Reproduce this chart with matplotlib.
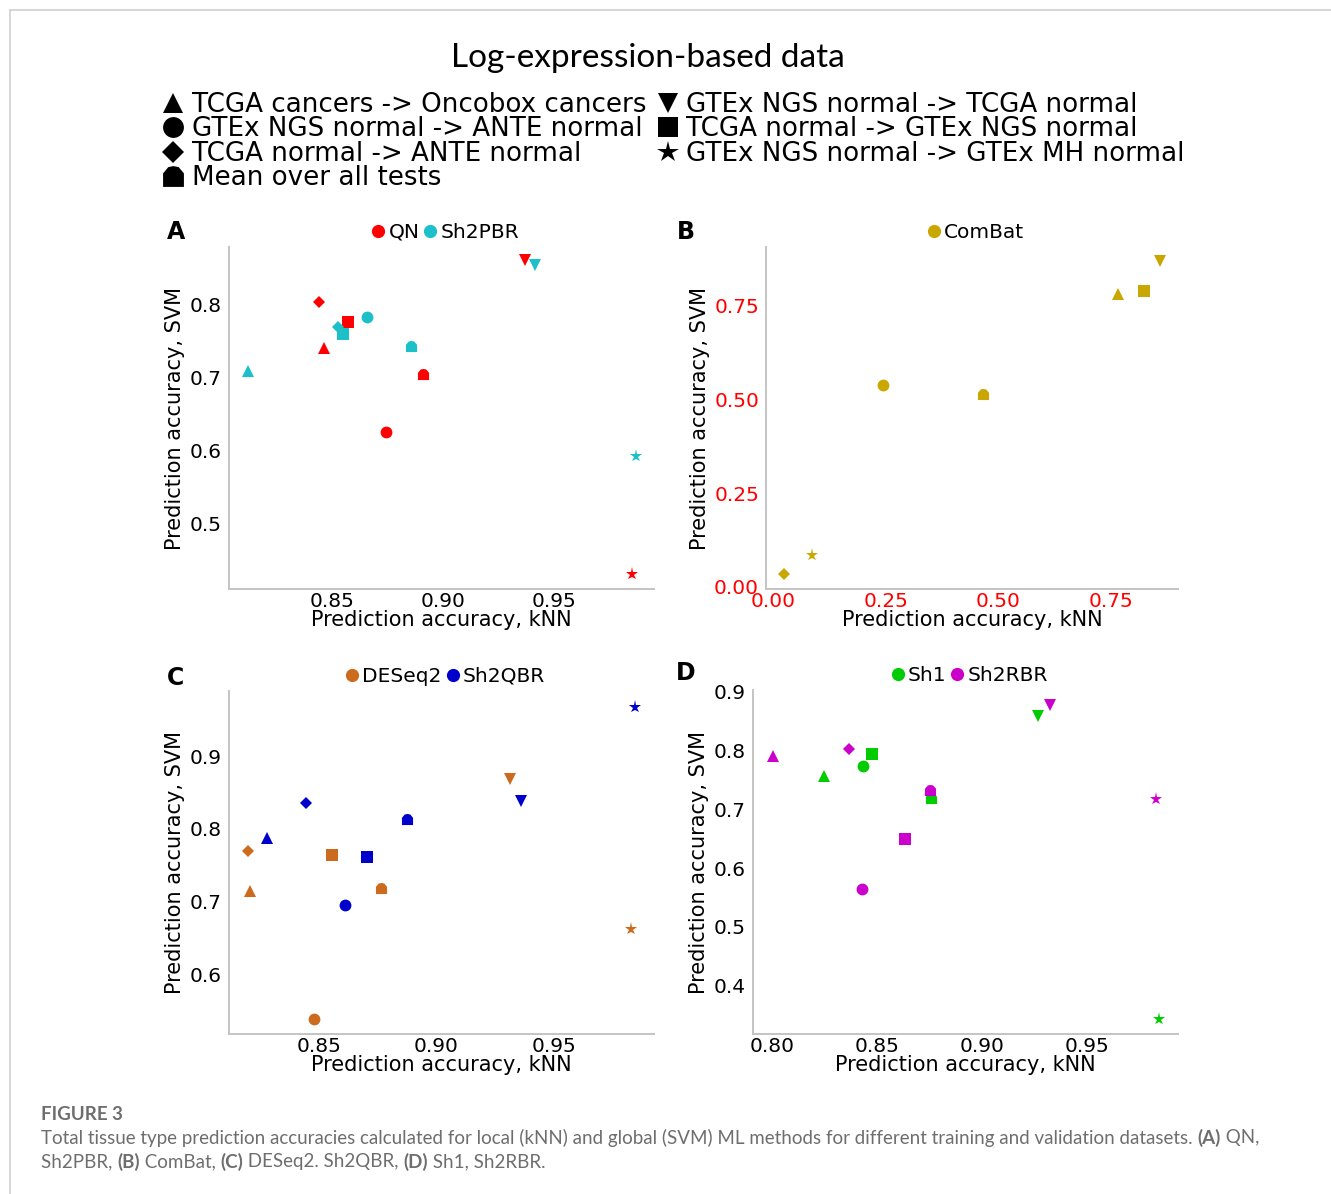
import numpy as np
import matplotlib
matplotlib.use("Agg")
import matplotlib.pyplot as plt
from matplotlib.path import Path
from matplotlib.lines import Line2D

# test order: up-triangle, circle, diamond, mean, down-triangle, square, star
tests = ["TCGA cancers -> Oncobox cancers", "GTEx NGS normal -> ANTE normal",
         "TCGA normal -> ANTE normal", "Mean over all tests",
         "GTEx NGS normal -> TCGA normal", "TCGA normal -> GTEx NGS normal",
         "GTEx NGS normal -> GTEx MH normal"]

qn_knn = [0.8465, 0.8742, 0.8443, 0.8909, 0.9370, 0.8573, 0.9850]
qn_svm = [0.7407, 0.6265, 0.8037, 0.7050, 0.8610, 0.7770, 0.4310]
sh2pbr_knn = [0.8123, 0.8656, 0.8526, 0.8856, 0.9416, 0.8548, 0.9868]
sh2pbr_svm = [0.7096, 0.7826, 0.7700, 0.7440, 0.8550, 0.7600, 0.5930]
combat_knn = [0.7655, 0.2433, 0.0244, 0.4664, 0.8600, 0.8240, 0.0853]
combat_svm = [0.7810, 0.5390, 0.0347, 0.5150, 0.8700, 0.7890, 0.0854]
deseq2_knn = [0.8207, 0.8480, 0.8200, 0.8765, 0.9314, 0.8557, 0.9828]
deseq2_svm = [0.7138, 0.5380, 0.7700, 0.7190, 0.8680, 0.7640, 0.6620]
sh2qbr_knn = [0.8282, 0.8612, 0.8448, 0.8874, 0.9358, 0.8705, 0.9845]
sh2qbr_svm = [0.7880, 0.6955, 0.8360, 0.8138, 0.8390, 0.7610, 0.9680]
sh1_knn = [0.8246, 0.8433, np.nan, 0.8757, 0.9270, 0.8478, 0.9845]
sh1_svm = [0.7575, 0.7740, np.nan, 0.7200, 0.8580, 0.7950, 0.3430]
sh2rbr_knn = [0.8003, 0.8430, 0.8368, 0.8752, 0.9325, 0.8636, 0.9829]
sh2rbr_svm = [0.7900, 0.5650, 0.8030, 0.7330, 0.8770, 0.6490, 0.7180]

W, H = 1331, 1194
fig = plt.figure(figsize=(W / 100, H / 100), dpi=100)
plt.rcParams["font.family"] = ["DejaVu Sans"]

house = Path([(-1, -1), (1, -1), (1, 0.3), (0.5, 0.9), (0, 1), (-0.5, 0.9), (-1, 0.3), (-1, -1)],
             [Path.MOVETO] + [Path.LINETO] * 6 + [Path.CLOSEPOLY])
markers = ["^", "o", "D", house, "v", "s", "*"]
msizes = [8, 8.5, 6.3, 8, 8, 8.5, 9.5]


def px_axes(left, top, right, bottom):
    return fig.add_axes([left / W, 1 - bottom / H, (right - left) / W, (bottom - top) / H])


def panel(ax, series, xlim, ylim, xticks, yticks, lab_x, tick_color="black"):
    for knn, svm, color, name in series:
        for i in range(len(knn)):
            ax.plot(knn[i], svm[i], linestyle="none", marker=markers[i],
                    markersize=msizes[i], color=color, markeredgewidth=0)
    ax.set_xlim(*xlim)
    ax.set_ylim(*ylim)
    ax.set_xticks(xticks)
    ax.set_yticks(yticks)
    ydec = 2 if tick_color != "black" else 1
    ax.set_xticklabels([f"{t:.2f}" for t in xticks], color=tick_color)
    ax.set_yticklabels([f"{t:.{ydec}f}" for t in yticks], color=tick_color)
    for s in ["top", "right"]:
        ax.spines[s].set_visible(False)
    for s in ["left", "bottom"]:
        ax.spines[s].set_color("#c4c4c4")
        ax.spines[s].set_linewidth(1.4)
    ax.tick_params(axis="both", length=0, labelsize=14.5)
    ax.tick_params(axis="x", pad=2)
    ax.tick_params(axis="y", pad=5)
    ax.set_xlabel("Prediction accuracy, kNN", fontsize=15)
    ax.set_ylabel("Prediction accuracy, SVM", fontsize=15)
    ax.xaxis.set_label_coords(0.5, -0.062)
    ax.yaxis.set_label_coords(lab_x, 0.5)
    handles = [Line2D([], [], linestyle="none", marker="o", markersize=9.5, color=c,
                      markeredgewidth=0) for _, _, c, _ in series]
    ax.legend(handles, [n for _, _, _, n in series], ncol=len(series), loc="center",
              bbox_to_anchor=(0.51, 1.043), frameon=False, fontsize=14.5, handlelength=0.6,
              handletextpad=0.2, columnspacing=0.25, borderpad=0)
    ax.patch.set_alpha(0)


axA = px_axes(229, 247, 654, 589)
panel(axA, [(qn_knn, qn_svm, "#ff0000", "QN"), (sh2pbr_knn, sh2pbr_svm, "#1bc0c9", "Sh2PBR")],
      (0.8036, 0.995), (0.411, 0.879), [0.85, 0.90, 0.95], [0.5, 0.6, 0.7, 0.8], -0.103)

axB = px_axes(766, 247, 1178, 589)
panel(axB, [(combat_knn, combat_svm, "#c9a600", "ComBat")],
      (-0.0162, 0.8996), (-0.006, 0.9066), [0.0, 0.25, 0.5, 0.75], [0.0, 0.25, 0.5, 0.75],
      -0.135, tick_color="#ff0000")

axC = px_axes(229, 691, 654, 1034)
panel(axC, [(deseq2_knn, deseq2_svm, "#cc6a1e", "DESeq2"), (sh2qbr_knn, sh2qbr_svm, "#0000cc", "Sh2QBR")],
      (0.8119, 0.9924), (0.5177, 0.9897), [0.85, 0.90, 0.95], [0.6, 0.7, 0.8, 0.9], -0.103)

axD = px_axes(753, 690, 1178, 1034)
panel(axD, [(sh1_knn, sh1_svm, "#00cc00", "Sh1"), (sh2rbr_knn, sh2rbr_svm, "#cc00cc", "Sh2RBR")],
      (0.791, 0.9935), (0.318, 0.903), [0.80, 0.85, 0.90, 0.95], [0.4, 0.5, 0.6, 0.7, 0.8, 0.9], -0.103)

# panel letters
for letter, x, y in [("A", 176, 232), ("B", 686, 232), ("C", 175, 678), ("D", 686, 673)]:
    fig.text(x / W, 1 - y / H, letter, fontsize=17, fontweight="bold", ha="center", va="center")

# title
fig.text(648 / W, 1 - 58 / H, "Log-expression-based data", fontsize=24, family="Lato",
         ha="center", va="center")

# shape legend
leg_sizes = [15, 15, 11, 15, 15, 15, 16]
shape_handles = [Line2D([], [], linestyle="none", marker=markers[i], markersize=leg_sizes[i],
                        color="black", markeredgewidth=0) for i in range(len(tests))]
fig.legend(shape_handles, tests, ncol=2, loc="upper left", bbox_to_anchor=(163 / W, 1 - 92 / H),
           frameon=False, fontsize=18.8, handlelength=0.8, handletextpad=0.3, columnspacing=0.42,
           labelspacing=-0.058, borderpad=0, borderaxespad=0)

# frame lines
fig.add_artist(Line2D([10 / W, 1], [1 - 10 / H, 1 - 10 / H], transform=fig.transFigure,
                      color="#cfcfcf", lw=1.2))
fig.add_artist(Line2D([10 / W, 10 / W], [0, 1 - 10 / H], transform=fig.transFigure,
                      color="#cfcfcf", lw=1.2))

# caption
gray = "#6e6e6e"
fig.text(41 / W, 1 - 1114 / H, "FIGURE 3", fontsize=13.5, fontweight="bold", family="Lato",
         color=gray, va="center")
renderer = fig.canvas.get_renderer()


def runs(x, y, parts):
    for txt, bold in parts:
        t = fig.text(x / W, 1 - y / H, txt, fontsize=13.5, family="Lato", color=gray,
                     fontweight="bold" if bold else "normal", va="center")
        x += t.get_window_extent(renderer).width


runs(41, 1138, [("Total tissue type prediction accuracies calculated for local (kNN) and global (SVM) "
                 "ML methods for different training and validation datasets. ", False),
                ("(A)", True), (" QN,", False)])
runs(41, 1162, [("Sh2PBR, ", False), ("(B)", True), (" ComBat, ", False), ("(C)", True),
                (" DESeq2. Sh2QBR, ", False), ("(D)", True), (" Sh1, Sh2RBR.", False)])

fig.savefig("out.png", dpi=100)
